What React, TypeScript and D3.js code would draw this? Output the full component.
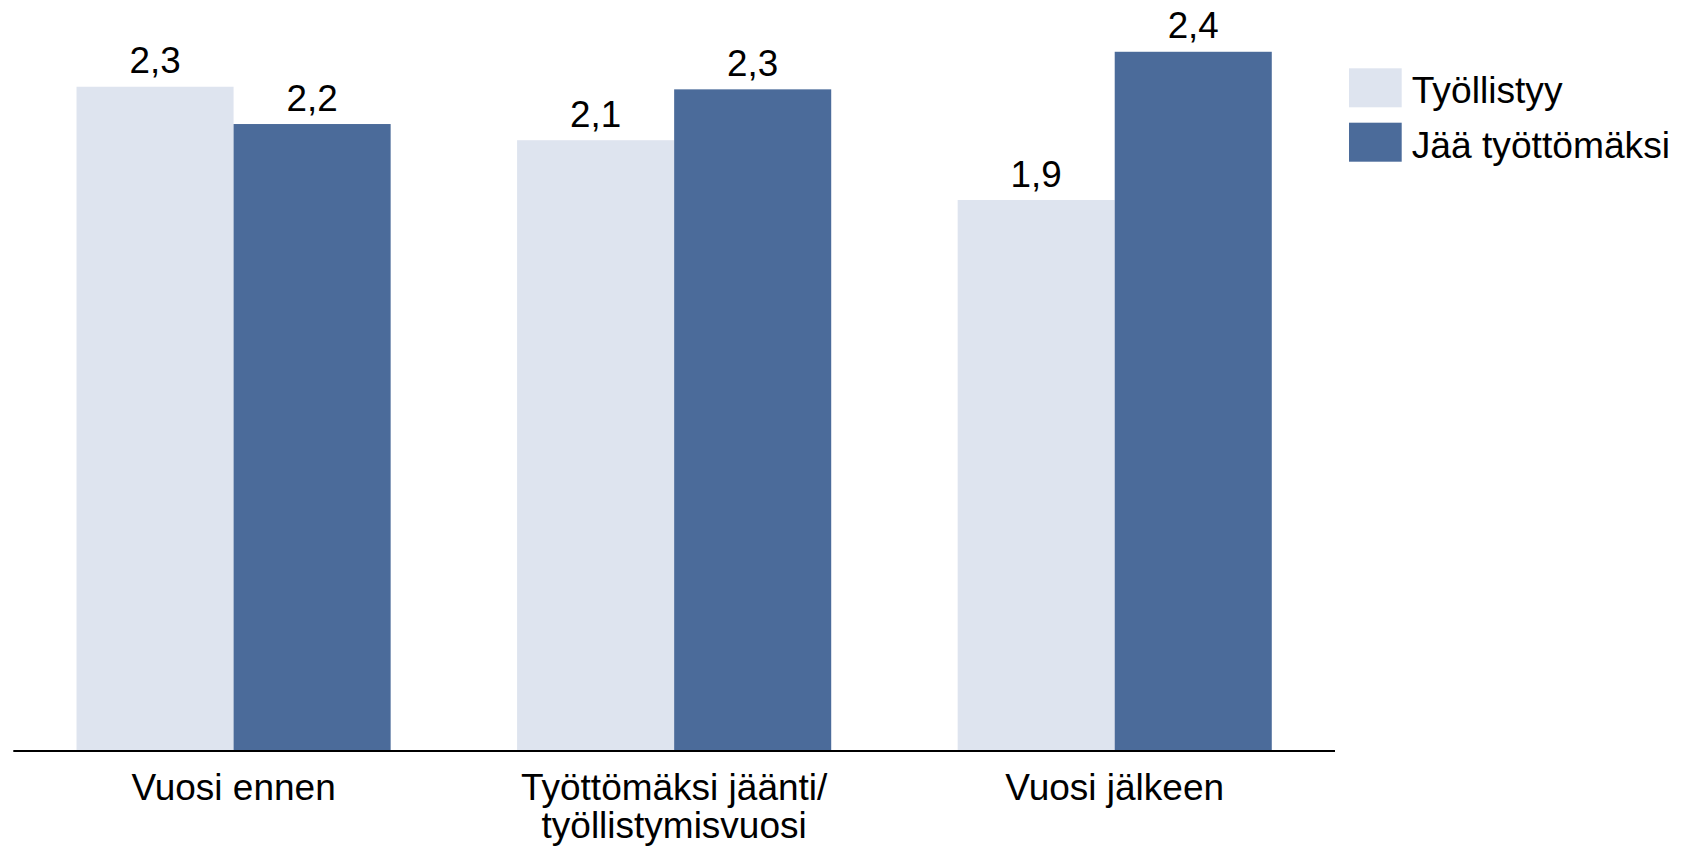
import React from "react";
import * as d3 from "d3";

const categories = ["Vuosi ennen", "Työttömäksi jäänti/\ntyöllistymisvuosi", "Vuosi jälkeen"];
const seriesNames = ["Työllistyy", "Jää työttömäksi"];
const tyollistyy = [2.295, 2.11, 1.903];
const jaaTyottomaksi = [2.166, 2.286, 2.416];
const colors = ["#dee4ef", "#4b6b9a"];

const W = 1684;
const H = 851;
const baseY = 750;
const pxPerUnit = 289;

export default function App() {
  const x = d3.scaleBand<string>().domain(categories).range([13.3, 1335]).paddingInner(0.287).paddingOuter(0.1435);
  const inner = d3.scaleBand<string>().domain(seriesNames).range([0, x.bandwidth()]);
  const y = d3.scaleLinear().domain([0, 1]).range([baseY, baseY - pxPerUnit]);
  const series = [tyollistyy, jaaTyottomaksi];
  const font = "'Liberation Sans', Arial, sans-serif";
  const fmt = (v: number) => v.toFixed(1).replace(".", ",");

  return (
    <svg width={W} height={H} style={{ position: "absolute", left: 0, top: 0, background: "#fff" }} fontFamily={font}>
      {categories.map((c, ci) => (
        <g key={c} transform={`translate(${x(c)},0)`}>
          {seriesNames.map((s, si) => {
            const v = series[si][ci];
            const bx = inner(s)!;
            return (
              <g key={s}>
                <rect x={bx} y={y(v)} width={inner.bandwidth()} height={baseY - y(v)} fill={colors[si]} />
                <text x={bx + inner.bandwidth() / 2} y={y(v) - 13.5} textAnchor="middle" fontSize={36.8} fill="#000">
                  {fmt(v)}
                </text>
              </g>
            );
          })}
          {c.split("\n").map((line, li) => (
            <text key={li} x={x.bandwidth() / 2} y={800 + li * 38} textAnchor="middle" fontSize={37} fill="#000">
              {line}
            </text>
          ))}
        </g>
      ))}
      <line x1={13.3} x2={1335} y1={baseY + 1} y2={baseY + 1} stroke="#000" strokeWidth={2} />
      {seriesNames.map((s, i) => (
        <g key={s} transform={`translate(1349,${68.3 + i * 54.4})`}>
          <rect x={0} y={0} width={52.7} height={39} fill={colors[i]} />
          <text x={62.7} y={35} fontSize={37.2} fill="#000">{s}</text>
        </g>
      ))}
    </svg>
  );
}
